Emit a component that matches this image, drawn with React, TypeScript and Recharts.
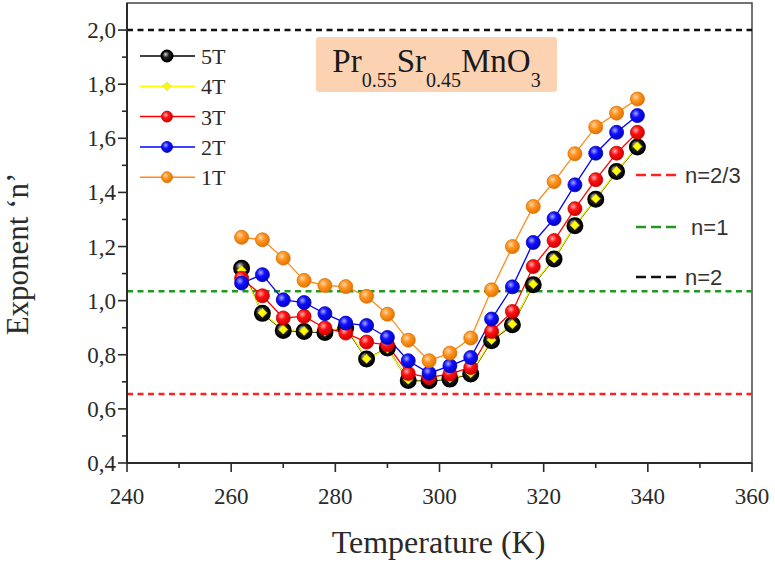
import { LineChart, Line, XAxis, YAxis, ReferenceLine, ReferenceArea } from 'recharts';

// Temperature steps (K) and exponent n for each applied field
const temperature = [262, 266, 270, 274, 278, 282, 286, 290, 294, 298, 302, 306, 310, 314, 318, 322, 326, 330, 334, 338];
const n5T = [1.12, 0.953, 0.89, 0.886, 0.882, 0.9, 0.784, 0.825, 0.705, 0.704, 0.71, 0.729, 0.852, 0.911, 1.059, 1.154, 1.277, 1.375, 1.477, 1.568];
const n4T = [1.112, 0.955, 0.893, 0.888, 0.885, 0.905, 0.785, 0.822, 0.708, 0.706, 0.713, 0.732, 0.855, 0.913, 1.061, 1.156, 1.279, 1.377, 1.479, 1.57];
const n3T = [1.083, 1.018, 0.936, 0.942, 0.899, 0.88, 0.847, 0.837, 0.731, 0.716, 0.729, 0.753, 0.886, 0.96, 1.126, 1.222, 1.34, 1.447, 1.545, 1.622];
const n2T = [1.065, 1.096, 1.003, 0.993, 0.952, 0.917, 0.908, 0.864, 0.778, 0.732, 0.759, 0.79, 0.932, 1.051, 1.215, 1.303, 1.428, 1.545, 1.622, 1.684];
const n1T = [1.234, 1.225, 1.157, 1.075, 1.056, 1.052, 1.016, 0.95, 0.854, 0.778, 0.806, 0.862, 1.04, 1.2, 1.348, 1.44, 1.543, 1.642, 1.693, 1.745];

const seriesKeys = ['n5T', 'n4T', 'n3T', 'n2T', 'n1T'];
const seriesNames = ['5T', '4T', '3T', '2T', '1T'];

// theoretical exponents
const thresholdValues = [0.655, 1.035, 2.0];
const thresholdLabels = ['n=2/3', ' n=1', 'n=2'];

const xTicks = [240, 250, 260, 270, 280, 290, 300, 310, 320, 330, 340, 350, 360];
const yTicks = [0.4, 0.5, 0.6, 0.7, 0.8, 0.9, 1.0, 1.1, 1.2, 1.3, 1.4, 1.5, 1.6, 1.7, 1.8, 1.9, 2.0];

const data = temperature.map((t, i) => ({ t, n5T: n5T[i], n4T: n4T[i], n3T: n3T[i], n2T: n2T[i], n1T: n1T[i] }));

const seriesStyle: Record<string, { color: string; edge: string; grad: string; hi: string; mid: string }> = {
  n5T: { color: '#000000', edge: '#000000', grad: 'g5', hi: '#d8d8d8', mid: '#222222' },
  n4T: { color: '#ffff00', edge: '#e0d000', grad: 'g4', hi: '#ffff80', mid: '#ffff00' },
  n3T: { color: '#ff0000', edge: '#c80000', grad: 'g3', hi: '#ffb0b0', mid: '#ff1010' },
  n2T: { color: '#0000ff', edge: '#0000b8', grad: 'g2', hi: '#a8a8ff', mid: '#1010ff' },
  n1T: { color: '#ff8c1a', edge: '#e07000', grad: 'g1', hi: '#ffd8b0', mid: '#ff951f' },
};
const thresholdColors = ['#ff2020', '#1f9a1f', '#111111'];

const SERIF = '"Liberation Serif", "Times New Roman", serif';
const SANS = '"Liberation Sans", Arial, sans-serif';
const INK = '#2a2a2a';

const fmt = (v: number) => v.toFixed(1).replace('.', ',');

function XTick(props: any) {
  const { x, y, payload } = props;
  const major = Math.round(payload.value) % 20 === 0;
  return (
    <g>
      <line x1={x} x2={x} y1={y} y2={y + (major ? 9 : 5)} stroke={INK} strokeWidth={1.6} />
      {major && (
        <text x={x} y={y + 41} textAnchor="middle" fontFamily={SERIF} fontSize={23} fill={INK}>
          {payload.value}
        </text>
      )}
    </g>
  );
}

function YTick(props: any) {
  const { x, y, payload } = props;
  const major = Math.round(payload.value * 10) % 2 === 0;
  return (
    <g>
      <line x1={x} x2={x - (major ? 9 : 5)} y1={y} y2={y} stroke={INK} strokeWidth={1.6} />
      {major && (
        <text x={x - 11} y={y + 8} textAnchor="end" fontFamily={SERIF} fontSize={23} fill={INK}>
          {fmt(payload.value)}
        </text>
      )}
    </g>
  );
}

function marker(key: string, cx: number, cy: number, small = false) {
  const s = seriesStyle[key];
  if (key === 'n4T') {
    const d = small ? 4 : 4.5;
    return (
      <polygon
        points={`${cx},${cy - d} ${cx + d},${cy} ${cx},${cy + d} ${cx - d},${cy}`}
        fill={s.color}
        stroke={s.edge}
        strokeWidth={0.8}
      />
    );
  }
  const r = small ? 5.5 : key === 'n5T' ? 7.5 : 7;
  return (
    <circle
      cx={cx}
      cy={cy}
      r={r}
      fill={`url(#${s.grad})`}
      stroke={s.edge}
      strokeWidth={key === 'n5T' ? 2 : 0.8}
    />
  );
}

const makeDot = (key: string) => (props: any) => {
  const { cx, cy, index } = props;
  if (cx == null || cy == null) return <g key={index} />;
  return <g key={index}>{marker(key, cx, cy)}</g>;
};

export default function App() {
  return (
    <div style={{ position: 'absolute', left: 0, top: 0, width: 775, height: 564, background: '#fff' }}>
      <LineChart width={775} height={564} data={data} margin={{ top: 3, right: 23, left: 0, bottom: 0 }}>
        <defs>
          {seriesKeys.map((k) => (
            <radialGradient key={k} id={seriesStyle[k].grad} cx="38%" cy="35%" r="70%">
              <stop offset="0%" stopColor={seriesStyle[k].hi} />
              <stop offset="40%" stopColor={seriesStyle[k].mid} />
              <stop offset="100%" stopColor={seriesStyle[k].edge} />
            </radialGradient>
          ))}
        </defs>
        <XAxis
          type="number"
          dataKey="t"
          domain={[240, 360]}
          ticks={xTicks}
          interval={0}
          tickSize={0}
          tickMargin={0}
          tickLine={false}
          axisLine={{ stroke: INK, strokeWidth: 2 }}
          tick={(p: any) => <XTick {...p} />}
          height={101}
        />
        <YAxis
          type="number"
          domain={[0.4, 2.1]}
          ticks={yTicks}
          interval={0}
          tickSize={0}
          tickMargin={0}
          tickLine={false}
          axisLine={{ stroke: INK, strokeWidth: 2 }}
          tick={(p: any) => <YTick {...p} />}
          width={127}
        />
        <ReferenceArea x1={240} x2={360} y1={0.4} y2={2.1} fill="none" stroke="#444" strokeWidth={1.5} />
        {thresholdValues.map((v, i) => (
          <ReferenceLine key={i} y={v} stroke={thresholdColors[i]} strokeWidth={2.4} strokeDasharray="6 4.5" />
        ))}
        {seriesKeys.map((k) => (
          <Line
            key={k}
            dataKey={k}
            name={k}
            stroke={seriesStyle[k].color}
            strokeWidth={1.3}
            dot={makeDot(k)}
            activeDot={false}
            isAnimationActive={false}
          />
        ))}

        {/* series legend */}
        <g>
          {seriesKeys.map((k, i) => {
            const y = 56 + i * 30.3;
            return (
              <g key={k}>
                <line x1={140} x2={195} y1={y} y2={y} stroke={seriesStyle[k].color} strokeWidth={1.5} />
                {marker(k, 167, y, true)}
                <text x={201} y={y + 8} fontFamily={SERIF} fontSize={22} fill={INK}>
                  {seriesNames[i]}
                </text>
              </g>
            );
          })}
        </g>

        {/* threshold legend */}
        <g>
          {thresholdLabels.map((lab, i) => {
            const y = [175, 227, 277][i];
            return (
              <g key={lab}>
                <line x1={636} x2={676} y1={y} y2={y} stroke={thresholdColors[i]} strokeWidth={2.4} strokeDasharray="10 5" />
                <text x={685} y={y + 8} fontFamily={SANS} fontSize={22} fill="#333" style={{ whiteSpace: 'pre' }}>
                  {lab}
                </text>
              </g>
            );
          })}
        </g>

        {/* compound label */}
        <rect x={316} y={37} width={241} height={55} rx={3} fill="#fbd3b2" />
        <text x={436.5} y={72} textAnchor="middle" fontFamily={SERIF} fontSize={33} fill="#1a1a1a">
          <tspan>Pr</tspan>
          <tspan fontSize={20} dy={15}>0.55</tspan>
          <tspan dy={-15}>Sr</tspan>
          <tspan fontSize={20} dy={15}>0.45</tspan>
          <tspan dy={-15}>MnO</tspan>
          <tspan fontSize={20} dy={15}>3</tspan>
        </text>

        {/* axis titles */}
        <text x={438.5} y={553} textAnchor="middle" fontFamily={SERIF} fontSize={32} fill={INK}>
          Temperature (K)
        </text>
        <text
          x={0}
          y={0}
          transform="translate(28 254) rotate(-90)"
          textAnchor="middle"
          fontFamily={SERIF}
          fontSize={31}
          fill={INK}
        >
          Exponent ‘n’
        </text>
      </LineChart>
    </div>
  );
}
